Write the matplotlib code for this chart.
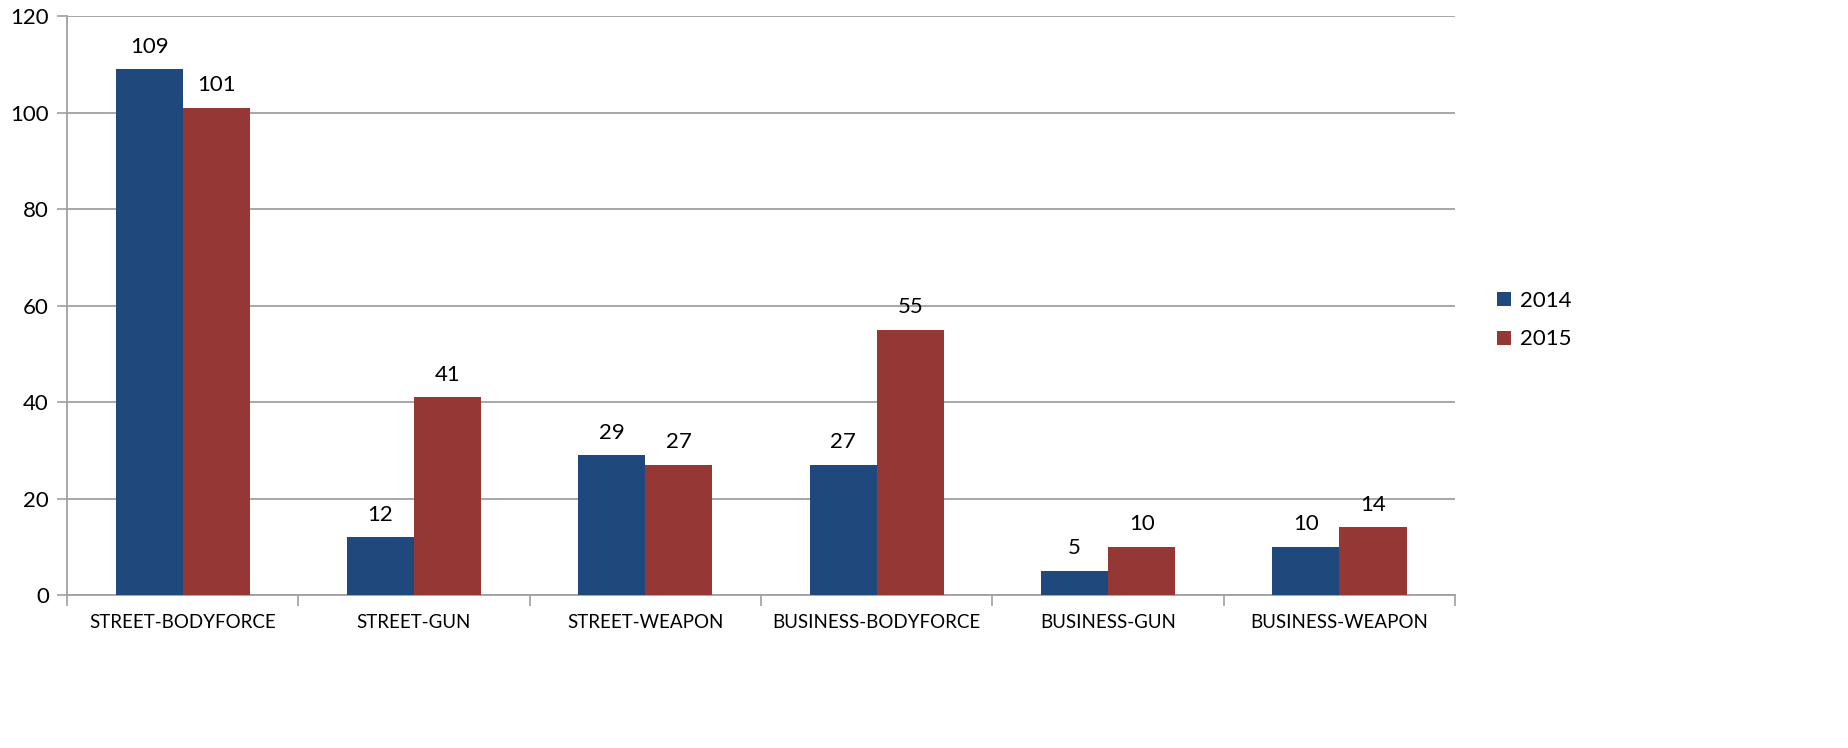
import matplotlib.pyplot as plt
import numpy as np

categories = ['STREET-BODYFORCE', 'STREET-GUN', 'STREET-WEAPON',
              'BUSINESS-BODYFORCE', 'BUSINESS-GUN', 'BUSINESS-WEAPON']
years = ['2014', '2015']
values2014 = [109, 12, 29, 27, 5, 10]
values2015 = [101, 41, 27, 55, 10, 14]
yTicks = [0, 20, 40, 60, 80, 100, 120]

blue = '#1F497D'
red = '#953735'
gridcolor = '#A0A0A0'
fontname = 'Lato'

fig = plt.figure(figsize=(18.49, 7.48), dpi=100)
ax = fig.add_axes([0.0362, 0.2045, 0.7508, 0.7741])

x = np.arange(len(categories))
w = 0.29
b1 = ax.bar(x - w/2, values2014, w, color=blue, label=years[0], zorder=3)
b2 = ax.bar(x + w/2, values2015, w, color=red, label=years[1], zorder=3)

for bars in (b1, b2):
    for rect in bars:
        h = rect.get_height()
        ax.annotate('{}'.format(int(h)), (rect.get_x() + rect.get_width()/2, h),
                    xytext=(0, 9), textcoords='offset points',
                    ha='center', va='bottom', fontsize=16, family=fontname)

ax.set_xlim(-0.5, len(categories) - 0.5)
ax.set_ylim(0, 120)
ax.set_yticks(yTicks)
ax.set_yticklabels(yTicks, fontsize=16, family=fontname)

# category labels centred, tick marks between categories
ax.set_xticks(x)
ax.set_xticklabels(categories, fontsize=13.5, family=fontname)
ax.tick_params(axis='x', length=0, pad=14)
ax.set_xticks(np.arange(-0.5, len(categories)), minor=True)
ax.tick_params(axis='x', which='minor', length=8, color=gridcolor, width=1.2)
ax.tick_params(axis='y', length=7, color=gridcolor, width=1.2, pad=6)

ax.grid(axis='y', color=gridcolor, linewidth=1.3, zorder=0)
ax.spines['top'].set_visible(False)
ax.spines['right'].set_visible(False)
ax.spines['left'].set_color(gridcolor)
ax.spines['bottom'].set_color(gridcolor)
ax.spines['left'].set_linewidth(1.3)
ax.spines['bottom'].set_linewidth(1.3)

ax.legend(loc='center left', bbox_to_anchor=(1.016, 0.475), frameon=False,
          prop={'family': fontname, 'size': 16}, handlelength=0.6,
          handleheight=0.6, handletextpad=0.4, labelspacing=0.85)

plt.savefig('out.png', dpi=100)
